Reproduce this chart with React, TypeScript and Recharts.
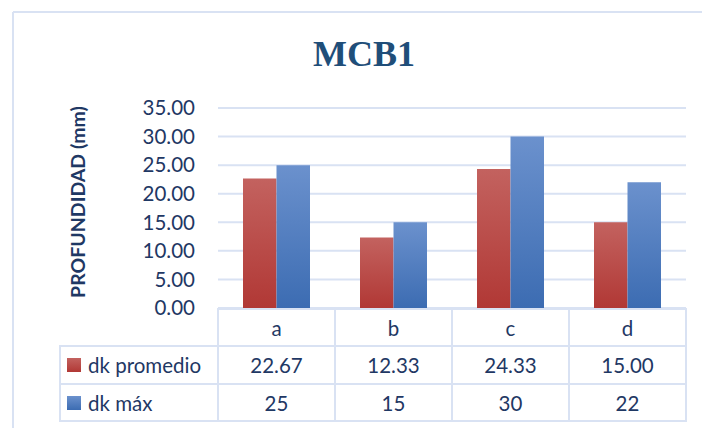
import { BarChart, Bar, XAxis, YAxis, CartesianGrid } from "recharts";

const CATEGORIES = ["a", "b", "c", "d"];
const DK_PROMEDIO = [22.67, 12.33, 24.33, 15.0];
const DK_MAX = [25, 15, 30, 22];
const Y_TICKS = [0, 5, 10, 15, 20, 25, 30, 35];

const SERIES = [
  { key: "promedio", name: "dk promedio", values: DK_PROMEDIO, fill: "url(#gradRed)", digits: 2 },
  { key: "maximo", name: "dk máx", values: DK_MAX, fill: "url(#gradBlue)", digits: 0 },
];

const data = CATEGORIES.map((cat, i) => ({
  cat,
  promedio: DK_PROMEDIO[i],
  maximo: DK_MAX[i],
}));

const FONT = "Lato, 'Open Sans', sans-serif";
const TEXT = "#1F3864";
const LINE = "#D9E2F3";
const COL_W = 117;
const TABLE_LEFT = 60;
// row boundaries, measured down from the category axis
const ROWS = [1, 38, 76, 113];

const TableTick = (props: any) => {
  const { x, y, payload, index } = props;
  const left = x - COL_W / 2;
  const right = x + COL_W / 2;
  return (
    <g>
      {ROWS.map((r) => (
        <line key={r} x1={left} x2={right} y1={y + r} y2={y + r} stroke={LINE} strokeWidth={2} />
      ))}
      <line x1={left} x2={left} y1={y} y2={y + ROWS[3] + 1} stroke={LINE} strokeWidth={2} />
      <line x1={right} x2={right} y1={y} y2={y + ROWS[3] + 1} stroke={LINE} strokeWidth={2} />
      <text x={x} y={y + 20} textAnchor="middle" dominantBaseline="central" fill={TEXT} fontSize={20.5} fontFamily={FONT}>
        {payload.value}
      </text>
      {SERIES.map((s, si) => (
        <text
          key={s.key}
          x={x}
          y={y + 57 + si * 38}
          textAnchor="middle"
          dominantBaseline="central"
          fill={TEXT}
          fontSize={20.5}
          fontFamily={FONT}
        >
          {s.values[index].toFixed(s.digits)}
        </text>
      ))}
      {index === 0 && (
        <g>
          {ROWS.slice(1).map((r) => (
            <line key={r} x1={TABLE_LEFT - 1} x2={left} y1={y + r} y2={y + r} stroke={LINE} strokeWidth={2} />
          ))}
          <line x1={TABLE_LEFT} x2={TABLE_LEFT} y1={y + ROWS[1]} y2={y + ROWS[3] + 1} stroke={LINE} strokeWidth={2} />
          {SERIES.map((s, si) => (
            <g key={s.key}>
              <rect x={67} y={y + 50 + si * 38} width={14} height={14} fill={s.fill} />
              <text
                x={88}
                y={y + 57 + si * 38}
                dominantBaseline="central"
                fill={TEXT}
                fontSize={20.5}
                fontFamily={FONT}
              >
                {s.name}
              </text>
            </g>
          ))}
        </g>
      )}
    </g>
  );
};

export default function App() {
  return (
    <div style={{ position: "absolute", left: 0, top: 0, background: "#fff" }}>
      <BarChart
        width={702}
        height={428}
        data={data}
        margin={{ top: 108, right: 16, bottom: 0, left: 0 }}
        barGap={0}
        barSize={33.5}
      >
        <defs>
          <linearGradient id="gradRed" x1="0" y1="0" x2="0" y2="1">
            <stop offset="0%" stopColor="#C3625F" />
            <stop offset="100%" stopColor="#B13835" />
          </linearGradient>
          <linearGradient id="gradBlue" x1="0" y1="0" x2="0" y2="1">
            <stop offset="0%" stopColor="#6B91CD" />
            <stop offset="100%" stopColor="#3C6CB2" />
          </linearGradient>
        </defs>
        <line x1={13} x2={702} y1={12} y2={12} stroke={LINE} strokeWidth={2} />
        <line x1={13} x2={13} y1={12} y2={428} stroke={LINE} strokeWidth={2} />
        <text
          x={364}
          y={66}
          textAnchor="middle"
          fill="#1F4E79"
          fontSize={36}
          fontWeight="bold"
          fontFamily="'Liberation Serif', 'Times New Roman', serif"
        >
          MCB1
        </text>
        <text
          x={85}
          y={202}
          transform="rotate(-90 85 202)"
          textAnchor="middle"
          fill={TEXT}
          fontSize={19.5}
          fontWeight="bold"
          fontFamily={FONT}
        >
          PROFUNDIDAD (mm)
        </text>
        <CartesianGrid vertical={false} stroke={LINE} strokeWidth={2} />
        <XAxis
          dataKey="cat"
          height={120}
          axisLine={false}
          tickLine={false}
          tickSize={0}
          tickMargin={0}
          interval={0}
          tick={<TableTick />}
        />
        <YAxis
          width={218}
          domain={[0, 35]}
          ticks={Y_TICKS}
          axisLine={false}
          tickLine={false}
          tickSize={0}
          tickMargin={23}
          tickFormatter={(v: number) => v.toFixed(2)}
          tick={{ fill: TEXT, fontSize: 20.5, fontFamily: FONT }}
        />
        <Bar dataKey="promedio" name="dk promedio" fill="url(#gradRed)" isAnimationActive={false} />
        <Bar dataKey="maximo" name="dk máx" fill="url(#gradBlue)" isAnimationActive={false} />
      </BarChart>
    </div>
  );
}
